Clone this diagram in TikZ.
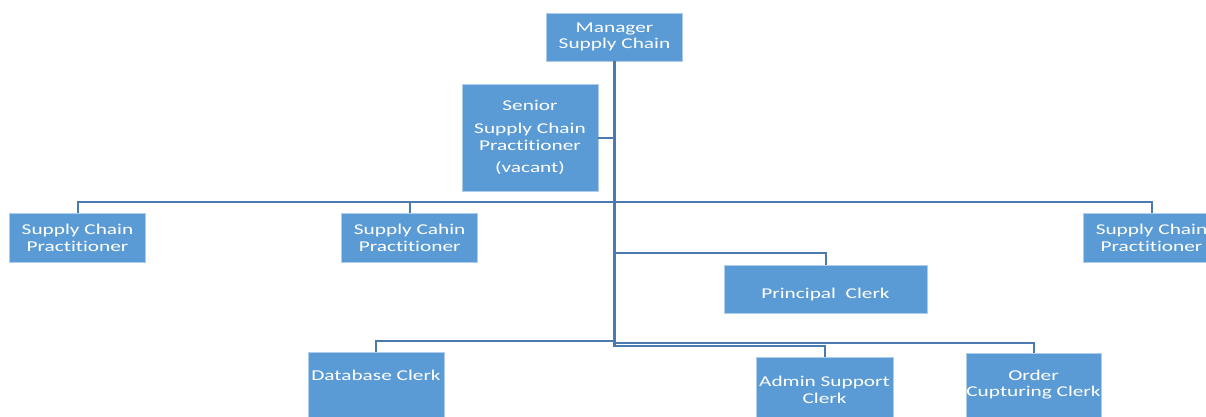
\documentclass[tikz,border=0pt]{standalone}
\usepackage{fontspec}
\setmainfont[FakeStretch=1.42,Ligatures=NoCommon]{Carlito}
\definecolor{boxfill}{RGB}{91,155,213}
\definecolor{boxedge}{RGB}{175,205,235}
\definecolor{linecol}{RGB}{74,122,176}
\tikzset{
  box/.style={draw=boxedge, line width=0.8pt, fill=boxfill, text=white, align=center,
    inner sep=0pt, font=\fontsize{15}{16.7}\selectfont},
  txt/.style={text=white, align=center, inner sep=0pt, font=\fontsize{15}{16.7}\selectfont},
  conn/.style={draw=linecol, line width=2pt},
  trunkline/.style={draw=linecol, line width=3pt}
}
\begin{document}
\begin{tikzpicture}[x=1pt,y=-1pt]
\useasboundingbox (0,0) rectangle (1206,416);
\clip (0,0) rectangle (1206,416);
% junction heights
\coordinate (hbar) at (0,201.7);
\coordinate (pbar) at (0,253);
\coordinate (dbar) at (0,340.7);
\coordinate (obar) at (0,342.7);
\coordinate (abar) at (0,345.5);
\coordinate (tend) at (0,346.5);
% boxes
\node[box, minimum width=136pt, minimum height=48pt] (mgr) at (614.5,37) {Manager\\Supply Chain};
\node[box, minimum width=136pt, minimum height=107pt] (senior) at (530,137.5)
  {Senior\\[6.5pt]Supply Chain\\Practitioner\\[5.5pt](vacant)};
\node[box, minimum width=136pt, minimum height=49pt] (scpa) at (77.5,237.5) {Supply Chain\\Practitioner};
\node[box, minimum width=136pt, minimum height=49pt] (scpb) at (409.7,237.5) {Supply Cahin\\Practitioner};
\node[box, minimum width=136pt, minimum height=49pt] (scpc) at (1151.5,237.5) {Supply Chain\\Practitioner};
\node[box, minimum width=203pt, minimum height=48pt] (princ) at (825.5,289) {};
\node[txt] (princt) at (825.5,294) {Principal\ \ Clerk};
\node[box, minimum width=136pt, minimum height=90pt] (db) at (376,397.7) {};
\node[txt] (dbt) at (376,375.7) {Database Clerk};
\node[box, minimum width=137pt, minimum height=90pt] (adm) at (824.5,402) {};
\node[txt] (admt) at (824.5,390) {Admin Support\\Clerk};
\node[box, minimum width=135pt, minimum height=90pt] (ord) at (1033.5,398) {};
\node[txt] (ordt) at (1033.5,384.7) {Order\\Cupturing Clerk};
% connectors
\draw[conn] (senior.east) -- (senior.east -| mgr.south);
\draw[conn] (scpa.north) |- (scpc.north |- hbar) -- (scpc.north);
\draw[conn] (scpb.north) -- (scpb.north |- hbar);
\draw[conn] (mgr.south |- pbar) -| (princ.north);
\draw[conn] (mgr.south |- dbar) -| (db.north);
\draw[conn] (mgr.south |- obar) -| (ord.north);
\draw[conn] (mgr.south |- abar) -| (adm.north);
\draw[trunkline] (mgr.south) -- (mgr.south |- tend);
\end{tikzpicture}
\end{document}
